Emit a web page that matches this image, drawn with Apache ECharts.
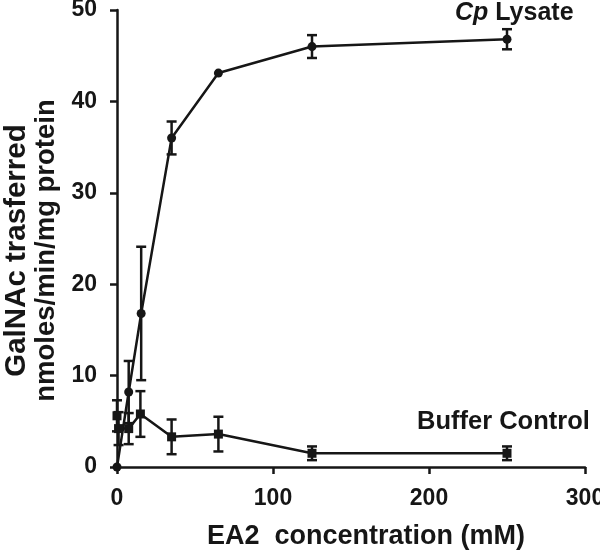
<!DOCTYPE html>
<html style="height: 100%">
<head>
<meta charset="utf-8">
<script src="https://cdn.jsdelivr.net/npm/echarts@6/dist/echarts.min.js"></script>
</head>
<body style="height: 100%; margin: 0; background: #fff">
<div id="container" style="width: 600px; height: 554px"></div>
<script type="text/javascript">
// EA2 concentration (mM) and GalNAc transferred
var lysateX = [0, 7.5, 15.5, 35, 65, 125, 250];
var lysateY = [0, 8.2, 16.8, 36, 43.1, 46, 46.8];
var lysateErr = [0, 3.4, 7.3, 1.8, 0, 1.25, 1.1];

var bufferX = [0, 1, 7.5, 15, 35, 65, 125, 250];
var bufferY = [5.6, 4.2, 4.2, 5.8, 3.3, 3.6, 1.5, 1.5];
var bufferErr = [1.7, 1.8, 1.7, 2.5, 1.9, 1.9, 0.75, 0.75];

var xTicks = [0, 100, 200, 300];
var yTicks = [0, 10, 20, 30, 40, 50];

var ink = '#161616';
var font = 'Liberation Sans, Arial, sans-serif';

function pairs(xs, ys) {
    return xs.map(function (x, i) { return [x, ys[i]]; });
}
function triples(xs, ys, es) {
    return xs.map(function (x, i) { return [x, ys[i], es[i]]; });
}

function errorBar(params, api) {
    var x = api.value(0), y = api.value(1), e = api.value(2);
    if (!e) return;
    var top = api.coord([x, y + e]);
    var bot = api.coord([x, y - e]);
    var w = 5;
    var st = { stroke: ink, lineWidth: 2.5 };
    return {
        type: 'group',
        children: [
            { type: 'line', shape: { x1: top[0], y1: top[1], x2: bot[0], y2: bot[1] }, style: st },
            { type: 'line', shape: { x1: top[0] - w, y1: top[1], x2: top[0] + w, y2: top[1] }, style: st },
            { type: 'line', shape: { x1: bot[0] - w, y1: bot[1], x2: bot[0] + w, y2: bot[1] }, style: st }
        ]
    };
}

var myChart = echarts.init(document.getElementById('container'));
var option = {
    animation: false,
    backgroundColor: '#fff',
    grid: { left: 117, right: 15, top: 10, bottom: 87, containLabel: false, outerBoundsMode: 'none' },
    xAxis: {
        type: 'value',
        min: xTicks[0],
        max: xTicks[xTicks.length - 1],
        interval: 100,
        name: 'EA2  concentration (mM)',
        nameLocation: 'middle',
        nameGap: 56,
        nameTextStyle: { fontFamily: font, fontWeight: 'bold', fontSize: 27, color: ink, padding: [0, 0, 0, 30] },
        axisLine: { lineStyle: { color: ink, width: 2.5 } },
        axisTick: { show: true, inside: false, length: 7, lineStyle: { color: ink, width: 2.5 } },
        axisLabel: { fontFamily: font, fontWeight: 'bold', fontSize: 23, color: ink, margin: 20 },
        splitLine: { show: false }
    },
    yAxis: {
        type: 'value',
        min: yTicks[0],
        max: yTicks[yTicks.length - 1],
        interval: 10,
        name: '{a|GalNAc trasferred}\n{b|nmoles/min/mg protein}',
        nameLocation: 'middle',
        nameGap: 54,
        nameTextStyle: {
            fontFamily: font, fontWeight: 'bold', color: ink, padding: [0, 24, 0, 0],
            rich: {
                a: { fontFamily: font, fontWeight: 'bold', fontSize: 29.5, lineHeight: 30, color: ink },
                b: { fontFamily: font, fontWeight: 'bold', fontSize: 27.5, lineHeight: 29, color: ink }
            }
        },
        axisLine: { show: true, lineStyle: { color: ink, width: 2.5 } },
        axisTick: { show: true, inside: false, length: 7, lineStyle: { color: ink, width: 2.5 } },
        axisLabel: { fontFamily: font, fontWeight: 'bold', fontSize: 23, color: ink, margin: 20 },
        splitLine: { show: false }
    },
    graphic: [
        {
            type: 'text', left: 455, top: 1,
            style: {
                text: '{i|Cp} Lysate',
                rich: { i: { fontStyle: 'italic', fontWeight: 'bold', fontSize: 25, fontFamily: font, fill: ink } },
                fontFamily: font, fontWeight: 'bold', fontSize: 25, fill: ink
            }
        },
        {
            type: 'text', left: 417, top: 409,
            style: { text: 'Buffer Control', fontFamily: font, fontWeight: 'bold', fontSize: 25.5, fill: ink }
        }
    ],
    series: [
        {
            name: 'Cp Lysate',
            type: 'line',
            data: pairs(lysateX, lysateY),
            symbol: 'circle',
            symbolSize: 9,
            lineStyle: { color: ink, width: 2.5 },
            itemStyle: { color: ink },
            z: 3
        },
        {
            type: 'custom',
            data: triples(lysateX, lysateY, lysateErr),
            renderItem: errorBar,
            z: 2
        },
        {
            name: 'Buffer Control',
            type: 'line',
            data: pairs(bufferX, bufferY),
            symbol: 'rect',
            symbolSize: 9,
            lineStyle: { color: ink, width: 2.5 },
            itemStyle: { color: ink },
            z: 3
        },
        {
            type: 'custom',
            data: triples(bufferX, bufferY, bufferErr),
            renderItem: errorBar,
            z: 2
        }
    ]
};
myChart.setOption(option);
</script>
</body>
</html>
